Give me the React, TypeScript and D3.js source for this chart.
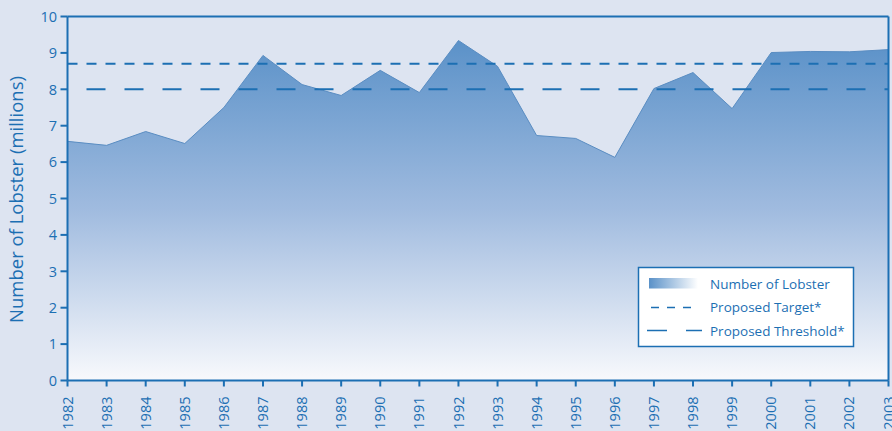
import React from "react";
import * as d3 from "d3";

const years = [1982,1983,1984,1985,1986,1987,1988,1989,1990,1991,1992,1993,1994,1995,1996,1997,1998,1999,2000,2001,2002,2003];
const lobster = [6.57,6.46,6.84,6.51,7.5,8.93,8.13,7.83,8.52,7.91,9.34,8.63,6.73,6.65,6.13,8.02,8.46,7.47,9.01,9.04,9.03,9.09];
const yTicks = [0,1,2,3,4,5,6,7,8,9,10];
const target = 8.7;
const threshold = 8.0;
const legendLabels = ["Number of Lobster", "Proposed Target*", "Proposed Threshold*"];

const W = 892, H = 431;
const left = 67.5, right = 888.5, top = 16.5, bottom = 380.5;
const blue = "#1c6fb3";
const font = "'Open Sans', 'Noto Sans', sans-serif";

export default function App() {
  const x = d3.scaleLinear().domain([1982, 2003]).range([left, right]);
  const y = d3.scaleLinear().domain([0, 10]).range([bottom, top]);
  const data = years.map((yr, i) => ({ yr, v: lobster[i] }));
  const area = d3.area<{ yr: number; v: number }>().x(d => x(d.yr)).y0(y(0)).y1(d => y(d.v));
  const line = d3.line<{ yr: number; v: number }>().x(d => x(d.yr)).y(d => y(d.v));

  const lx = 638.5, ly = 267.5, lw = 215, lh = 79;

  return (
    <div style={{ position: "absolute", left: 0, top: 0 }}>
      <svg width={W} height={H} style={{ display: "block" }}>
        <defs>
          <linearGradient id="ag" gradientUnits="userSpaceOnUse" x1="0" y1={y(9.4)} x2="0" y2={y(0)}>
            <stop offset="0" stopColor="#5a91c8" />
            <stop offset="0.5" stopColor="#a0bbdf" />
            <stop offset="1" stopColor="#f8f9fc" />
          </linearGradient>
          <linearGradient id="lg" x1="0" y1="0" x2="1" y2="0">
            <stop offset="0" stopColor="#5a91c8" />
            <stop offset="1" stopColor="#ffffff" />
          </linearGradient>
        </defs>
        <rect x={0} y={0} width={W} height={H} fill="#dde4f1" />
        <path d={area(data) || ""} fill="url(#ag)" />
        <path d={line(data) || ""} fill="none" stroke="#5a8dc2" strokeWidth={1} />
        {/* reference lines */}
        <line x1={left} x2={right} y1={y(target)} y2={y(target)} stroke={blue} strokeWidth={2} strokeDasharray="10,9" />
        <line x1={left} x2={right} y1={y(threshold)} y2={y(threshold)} stroke={blue} strokeWidth={2} strokeDasharray="19,19" strokeDashoffset={-19} />
        {/* frame */}
        <line x1={left} x2={right} y1={top} y2={top} stroke={blue} strokeWidth={2} />
        <line x1={right} x2={right} y1={top} y2={bottom} stroke={blue} strokeWidth={2} />
        <line x1={left} x2={left} y1={top} y2={bottom} stroke={blue} strokeWidth={2} />
        <line x1={left} x2={right} y1={bottom} y2={bottom} stroke={blue} strokeWidth={2} />
        {/* y ticks */}
        {yTicks.map(t => (
          <g key={t}>
            <line x1={left - 7} x2={left} y1={y(t)} y2={y(t)} stroke={blue} strokeWidth={2} />
            <text x={57} y={y(t)} dy="0.36em" textAnchor="end" fill={blue} fontSize={14.5} fontFamily={font}>{t}</text>
          </g>
        ))}
        {/* x ticks */}
        {years.map(yr => (
          <g key={yr}>
            <line x1={x(yr)} x2={x(yr)} y1={bottom} y2={bottom + 6} stroke={blue} strokeWidth={2} />
            <text transform={`translate(${x(yr)},${bottom + 16}) rotate(-90)`} dy="0.35em" textAnchor="end" fill={blue} fontSize={14.5} fontFamily={font}>{yr}</text>
          </g>
        ))}
        <text transform={`translate(17,${(top + bottom) / 2 + 1}) rotate(-90)`} textAnchor="middle" dy="0.35em" fill={blue} fontSize={18.5} fontFamily={font}>Number of Lobster (millions)</text>
        {/* legend */}
        <rect x={lx} y={ly} width={lw} height={lh} fill="#ffffff" stroke={blue} strokeWidth={1.5} />
        <rect x={649} y={278} width={49} height={10.5} fill="url(#lg)" />
        <line x1={651} x2={699} y1={307.5} y2={307.5} stroke={blue} strokeWidth={1.5} strokeDasharray="8,8" />
        <line x1={647} x2={702} y1={330.5} y2={330.5} stroke={blue} strokeWidth={1.5} strokeDasharray="20,19" />
        {legendLabels.map((l, i) => (
          <text key={l} x={710} y={284 + i * 23.5} dy="0.35em" fill={blue} fontSize={13.5} fontFamily={font}>{l}</text>
        ))}
      </svg>
    </div>
  );
}
